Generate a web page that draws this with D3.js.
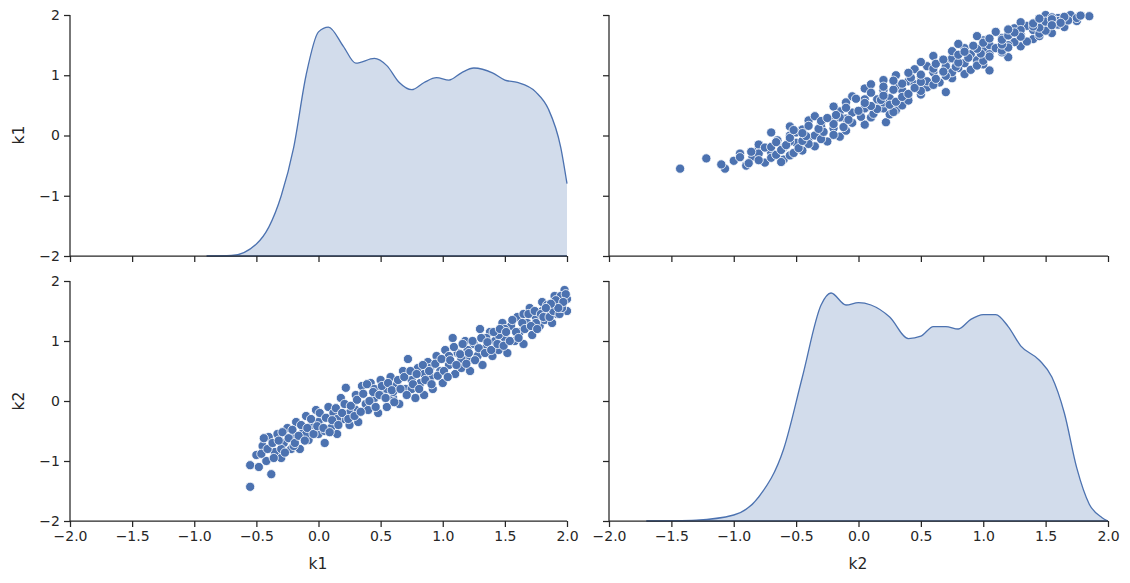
<!DOCTYPE html><html><head><meta charset="utf-8">
<script src="https://cdn.jsdelivr.net/npm/d3@7"></script>
<style>body{margin:0;background:#fff}text{font-family:"DejaVu Sans",sans-serif;fill:#262626}</style>
</head><body><svg id="c" width="1130" height="583"></svg>
<script>
const xTicks=[-2.0,-1.5,-1.0,-0.5,0.0,0.5,1.0,1.5,2.0];
const yTicks=[-2,-1,0,1,2];
const vars=["k1","k2"];
const points=[[-0.55,-1.43],[-0.55,-1.07],[-0.5,-0.9],[-0.48,-1.1],[-0.45,-0.75],[-0.42,-1.0],[-0.4,-0.6],[-0.38,-1.22],[-0.35,-0.85],[-0.33,-0.55],[-0.3,-0.95],[-0.28,-0.7],[-0.25,-0.45],[-0.22,-0.8],[-0.2,-0.6],[-0.18,-0.35],[-0.15,-0.8],[-0.12,-0.5],[-0.1,-0.25],[-0.08,-0.65],[-0.05,-0.4],[-0.02,-0.15],[0,-0.55],[0.02,-0.3],[0.05,-0.7],[0.08,-0.1],[0.1,-0.45],[0.12,-0.2],[0.15,-0.55],[0.18,0.05],[0.2,-0.3],[0.22,0.22],[0.25,-0.4],[0.28,-0.1],[0.3,0.1],[0.32,-0.35],[0.35,0.25],[0.38,-0.05],[0.4,-0.15],[0.42,0.3],[0.45,0.05],[0.48,-0.2],[0.5,0.35],[0.52,0.15],[0.55,-0.1],[0.58,0.4],[0.6,0.05],[0.62,0.25],[0.65,-0.05],[0.68,0.5],[0.7,0.2],[0.72,0.7],[0.75,0.35],[0.78,0.05],[0.8,0.55],[0.82,0.3],[0.85,0.1],[0.88,0.65],[0.9,0.4],[0.92,0.2],[0.95,0.75],[0.98,0.5],[1.0,0.3],[1.02,0.85],[1.05,0.6],[1.08,1.05],[1.1,0.45],[1.12,0.8],[1.15,0.55],[1.18,1.0],[1.2,0.7],[1.22,0.5],[1.25,0.95],[1.28,0.75],[1.3,1.2],[1.32,0.6],[1.35,0.9],[1.38,1.15],[1.4,0.75],[1.42,1.0],[1.45,0.85],[1.48,1.3],[1.5,1.05],[1.52,0.8],[1.55,1.25],[1.58,1.0],[1.6,1.4],[1.62,1.15],[1.65,0.95],[1.68,1.3],[1.7,1.55],[1.72,1.1],[1.75,1.4],[1.78,1.25],[1.8,1.65],[1.82,1.35],[1.85,1.5],[1.88,1.3],[1.9,1.75],[1.92,1.45],[1.95,1.6],[1.98,1.85],[2.0,1.5],[2.0,1.7],
[-0.3,-0.8],[-0.1,-0.55],[0.0,-0.35],[0.15,-0.3],[0.3,-0.15],[0.45,0.2],[0.6,0.15],[0.75,0.2],[0.9,0.55],[1.05,0.75],[1.2,0.85],[1.35,1.05],[1.5,1.2],[1.65,1.45],[1.8,1.5],[1.95,1.75],[-0.2,-0.75],[0.05,-0.5],[0.25,-0.2],[0.55,0.2],[0.85,0.45],[1.15,0.7],[1.45,1.1],[1.75,1.3],[1.9,1.6],
[-0.46,-0.88],[-0.44,-0.62],[-0.41,-0.8],[-0.37,-0.7],[-0.36,-0.95],[-0.32,-0.66],[-0.29,-0.52],[-0.27,-0.86],[-0.24,-0.62],[-0.21,-0.48],[-0.19,-0.7],[-0.16,-0.58],[-0.14,-0.4],[-0.11,-0.66],[-0.09,-0.45],[-0.06,-0.3],[-0.04,-0.55],[-0.01,-0.42],[0.01,-0.2],[0.04,-0.45],[0.06,-0.28],[0.09,-0.52],[0.11,-0.32],[0.14,-0.12],[0.16,-0.4],[0.19,-0.2],[0.21,-0.05],[0.24,-0.3],[0.26,-0.08],[0.29,-0.25],[0.31,0.02],[0.34,-0.18],[0.36,0.12],[0.39,0.28],[0.41,0.0],[0.44,0.15],[0.46,-0.1],[0.49,0.1],[0.51,0.25],[0.54,0.05],[0.56,0.3],[0.59,0.18],[0.61,-0.02],[0.64,0.35],[0.66,0.2],[0.69,0.4],[0.71,0.1],[0.74,0.5],[0.76,0.28],[0.79,0.45],[0.81,0.2],[0.84,0.6],[0.86,0.35],[0.89,0.5],[0.91,0.28],[0.94,0.62],[0.96,0.42],[0.99,0.7],[1.01,0.5],[1.04,0.4],[1.06,0.68],[1.09,0.9],[1.11,0.6],[1.14,0.78],[1.16,0.95],[1.19,0.62],[1.21,0.8],[1.24,1.0],[1.26,0.68],[1.29,0.88],[1.31,1.05],[1.34,0.8],[1.36,0.98],[1.39,0.85],[1.41,1.15],[1.44,0.95],[1.46,1.2],[1.49,0.92],[1.51,1.15],[1.54,1.0],[1.56,1.35],[1.59,1.15],[1.61,1.05],[1.64,1.3],[1.66,1.2],[1.69,1.45],[1.71,1.25],[1.74,1.5],[1.76,1.2],[1.79,1.45],[1.81,1.4],[1.84,1.6],[1.86,1.4],[1.89,1.5],[1.91,1.68],[1.94,1.45],[1.96,1.55],[1.99,1.78],[1.97,1.65],[1.93,1.55],[1.87,1.62],[1.83,1.55]];
const kdeX=[-0.9,-0.7,-0.5,-0.4,-0.3,-0.2,-0.1,0,0.08,0.2,0.3,0.45,0.55,0.65,0.75,0.85,0.95,1.05,1.15,1.25,1.4,1.5,1.6,1.75,1.85,1.95,2.0];
const kdeK1=[0,0.002,0.05,0.12,0.25,0.45,0.75,0.93,0.95,0.87,0.80,0.82,0.79,0.72,0.69,0.72,0.74,0.73,0.76,0.78,0.76,0.73,0.72,0.68,0.61,0.45,0.30];
const kdeX2=[-1.7,-1.3,-1.0,-0.8,-0.6,-0.45,-0.3,-0.22,-0.1,0,0.1,0.25,0.4,0.5,0.6,0.7,0.8,0.9,1.0,1.1,1.2,1.3,1.45,1.55,1.65,1.75,1.85,1.95,2.0];
const kdeK2=[0,0.004,0.025,0.1,0.3,0.6,0.9,0.95,0.9,0.91,0.9,0.85,0.76,0.77,0.81,0.81,0.8,0.84,0.86,0.86,0.81,0.73,0.67,0.6,0.45,0.22,0.07,0.015,0];

const svg=d3.select("#c");
const cols=[[70,567],[609,1108]], rows=[[15,256],[281,521]];
const col="#4c72b0", ink="#262626";
for(let r=0;r<2;r++)for(let c=0;c<2;c++){
  const x=d3.scaleLinear().domain([-2,2]).range(cols[c]);
  const y=d3.scaleLinear().domain([-2,2]).range([rows[r][1],rows[r][0]]);
  const g=svg.append("g");
  if(r===c){
    const xs=r===0?kdeX:kdeX2, ds=r===0?kdeK1:kdeK2;
    const yd=d3.scaleLinear().domain([0,1]).range([rows[r][1],rows[r][0]]);
    const data=xs.map((v,i)=>[v,ds[i]]);
    g.append("path").datum(data).attr("fill",col).attr("fill-opacity",0.25)
     .attr("d",d3.area().x(d=>x(d[0])).y0(yd(0)).y1(d=>yd(d[1])).curve(d3.curveMonotoneX));
    g.append("path").datum(data).attr("fill","none").attr("stroke",col).attr("stroke-width",1.3)
     .attr("d",d3.line().x(d=>x(d[0])).y(d=>yd(d[1])).curve(d3.curveMonotoneX));
    g.append("line").attr("x1",x(xs[0])).attr("x2",x(2)).attr("y1",yd(0)).attr("y2",yd(0)).attr("stroke",col).attr("stroke-width",1.3);
  } else {
    const xi=c, yi=r;
    g.selectAll("circle").data(points).join("circle")
     .attr("cx",d=>x(d[xi])).attr("cy",d=>y(d[yi])).attr("r",4.6)
     .attr("fill",col).attr("stroke","#fff").attr("stroke-width",0.8);
  }
  const ax=svg.append("g").attr("transform",`translate(0,${rows[r][1]})`)
    .call(d3.axisBottom(x).tickValues(xTicks).tickSize(6).tickPadding(4));
  const ay=svg.append("g").attr("transform",`translate(${cols[c][0]},0)`)
    .call(d3.axisLeft(y).tickValues(yTicks).tickSize(6).tickPadding(4));
  [ax,ay].forEach(a=>{a.selectAll("path,line").attr("stroke",ink).attr("stroke-width",1.25);
    a.select(".domain").attr("d",a===ax?`M${cols[c][0]},0H${cols[c][1]}`:`M0,${rows[r][0]}V${rows[r][1]}`);
    a.selectAll("text").attr("font-size",14).attr("fill",ink).attr("font-family","DejaVu Sans");});
  ax.selectAll("text").text(d=>r===1?(d<0?"\u2212"+(-d).toFixed(1):d.toFixed(1)):"");
  ay.selectAll("text").text(d=>c===0?(d<0?"\u2212"+(-d):d):"");
}
svg.append("text").attr("x",318).attr("y",569).attr("text-anchor","middle").attr("font-size",15.5).text("k1");
svg.append("text").attr("x",858).attr("y",569).attr("text-anchor","middle").attr("font-size",15.5).text("k2");
svg.append("text").attr("transform","translate(24,135) rotate(-90)").attr("text-anchor","middle").attr("font-size",15.5).text("k1");
svg.append("text").attr("transform","translate(24,401) rotate(-90)").attr("text-anchor","middle").attr("font-size",15.5).text("k2");
</script></body></html>
